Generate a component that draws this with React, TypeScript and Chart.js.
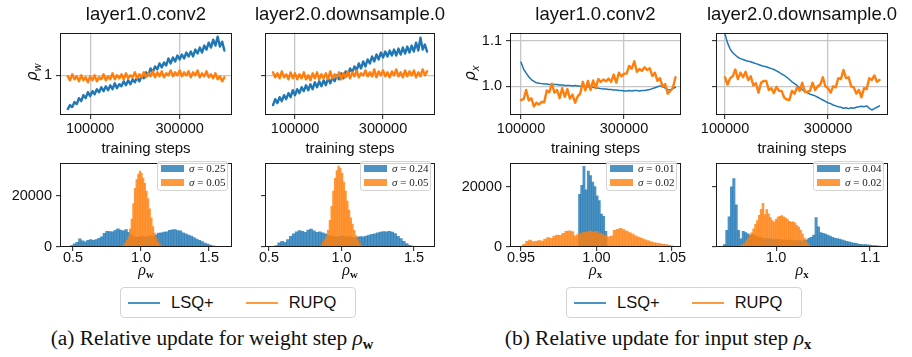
import React, { useEffect, useRef } from "react";
import { Chart, registerables } from "chart.js";
Chart.register(...registerables);

// ---------- colours / fonts ----------
const BLUE = "#1f77b4";
const ORANGE = "#ff7f0e";
const BLUE_A = "rgba(31,119,180,0.8)";
const ORANGE_A = "rgba(255,127,14,0.8)";
const GRID = "#c6c6c6";
const SANS = '"Liberation Sans", Arial, Helvetica, sans-serif';
const SERIF = '"Liberation Serif", "Times New Roman", serif';

// ---------- tick values / labels ----------
const STEP_TICKS = [100000, 300000];
const STEP_LABELS = ["100000", "300000"];
const RHO_W_TICKS = [1];
const RHO_W_LABELS = ["1"];
const RHO_X_TICKS = [1.0, 1.1];
const RHO_X_LABELS = ["1.0", "1.1"];
const COUNT_TICKS = [0, 20000];
const COUNT_LABELS = ["0", "20000"];
const HW_TICKS = [0.5, 1.0, 1.5];
const HW_LABELS = ["0.5", "1.0", "1.5"];
const HX1_TICKS = [0.95, 1.0, 1.05];
const HX1_LABELS = ["0.95", "1.00", "1.05"];
const HX2_TICKS = [1.0, 1.1];
const HX2_LABELS = ["1.0", "1.1"];

const TITLES = ["layer1.0.conv2", "layer2.0.downsample.0", "layer1.0.conv2", "layer2.0.downsample.0"];
const SIGMA_BLUE = ["0.25", "0.24", "0.01", "0.04"];
const SIGMA_ORANGE = ["0.05", "0.05", "0.02", "0.02"];

// ---------- time series (training steps) ----------
// weight step, layer1.0.conv2 : steps 50000 .. 400000
const W1_LSQ = [0.66,0.70,0.68,0.73,0.71,0.77,0.74,0.80,0.77,0.83,0.79,0.84,0.81,0.86,0.83,0.88,0.84,0.89,0.85,0.90,0.86,0.92,0.87,0.91,0.89,0.94,0.90,0.95,0.91,0.96,0.93,0.98,0.94,0.99,0.97,1.03,1.00,1.07,1.03,1.09,1.06,1.12,1.08,1.13,1.10,1.17,1.12,1.18,1.14,1.20,1.16,1.21,1.17,1.23,1.19,1.24,1.19,1.26,1.22,1.28,1.23,1.30,1.26,1.33,1.28,1.36,1.30,1.39,1.29,1.34,1.25];
const W1_RUPQ = [0.99,0.95,1.01,0.96,0.99,0.94,1.00,0.95,0.98,0.93,0.99,0.95,1.00,0.94,0.98,0.96,1.01,0.95,0.99,0.96,1.02,0.96,1.00,0.97,1.01,0.96,1.02,0.97,1.00,0.98,1.03,0.97,1.01,0.98,1.03,0.98,1.02,0.99,1.04,0.98,1.03,0.99,1.04,0.98,1.02,1.00,1.05,0.99,1.03,1.00,1.05,0.99,1.03,1.00,1.04,0.98,1.03,1.00,1.05,0.98,1.02,0.99,1.04,0.98,1.01,0.97,1.02,0.96,0.99,0.94,0.98];
// weight step, layer2.0.downsample.0 : steps 50000 .. 400000
const W2_LSQ = [0.70,0.76,0.72,0.78,0.74,0.80,0.76,0.82,0.78,0.85,0.80,0.86,0.82,0.88,0.84,0.90,0.85,0.91,0.86,0.93,0.88,0.94,0.89,0.95,0.90,0.97,0.92,0.98,0.94,1.00,0.96,1.02,0.97,1.04,1.00,1.07,1.03,1.09,1.05,1.12,1.07,1.14,1.09,1.16,1.12,1.19,1.14,1.21,1.16,1.23,1.18,1.24,1.19,1.25,1.20,1.26,1.20,1.27,1.21,1.28,1.22,1.29,1.23,1.30,1.24,1.33,1.25,1.38,1.26,1.31,1.24];
const W2_RUPQ = [1.03,0.98,1.02,0.97,1.04,0.98,1.01,0.96,1.03,0.97,1.02,0.96,1.01,0.97,1.03,0.96,1.00,0.95,1.02,0.97,1.03,0.96,1.01,0.97,1.02,0.96,1.04,0.97,1.01,0.98,1.03,0.96,1.02,0.98,1.04,0.97,1.03,0.99,1.05,0.98,1.02,1.00,1.05,0.99,1.03,0.99,1.06,0.98,1.04,1.00,1.05,0.99,1.03,0.98,1.04,1.00,1.06,0.99,1.03,0.98,1.05,0.99,1.04,1.00,1.05,0.98,1.03,0.99,1.06,1.00,1.04];
// input step, layer1.0.conv2 : steps 100000 .. 400000
const X1_LSQ = [1.053,1.038,1.029,1.021,1.015,1.011,1.008,1.007,1.006,1.005,1.005,1.004,1.004,1.004,1.004,1.003,1.003,1.002,1.002,1.002,1.001,1.002,1.001,1.000,1.000,0.999,0.999,0.998,0.998,0.997,0.996,0.995,0.994,0.994,0.993,0.993,0.992,0.992,0.991,0.991,0.990,0.990,0.991,0.990,0.991,0.991,0.990,0.991,0.991,0.992,0.993,0.995,0.997,0.999,1.001,0.999,0.996,0.993,0.992,0.995,0.998];
const X1_RUPQ = [0.970,0.972,0.992,0.969,0.974,0.956,0.964,0.960,0.966,0.965,0.991,0.987,1.006,0.986,0.992,0.974,0.996,0.977,0.994,0.973,0.982,0.964,0.978,0.984,1.010,0.991,1.012,0.992,1.013,0.996,1.016,1.010,1.015,1.011,1.017,1.010,1.026,1.008,1.030,1.022,1.028,1.028,1.045,1.039,1.055,1.032,1.038,1.034,1.042,1.036,1.040,1.023,1.030,1.012,1.018,0.999,1.005,0.984,0.990,0.997,1.020];
// input step, layer2.0.downsample.0 : steps 100000 .. 400000
const X2_LSQ = [1.115,1.095,1.082,1.074,1.069,1.064,1.061,1.059,1.057,1.055,1.054,1.052,1.050,1.048,1.046,1.044,1.043,1.041,1.039,1.037,1.034,1.031,1.027,1.024,1.020,1.015,1.010,1.006,1.002,0.997,0.993,0.989,0.986,0.983,0.981,0.979,0.976,0.973,0.970,0.967,0.964,0.962,0.959,0.957,0.955,0.954,0.952,0.953,0.951,0.953,0.952,0.954,0.955,0.956,0.955,0.957,0.952,0.948,0.951,0.954,0.957];
const X2_RUPQ = [1.020,1.004,1.018,1.022,1.037,1.016,1.030,1.020,1.032,1.014,1.022,1.002,1.007,0.986,1.008,1.012,1.012,0.992,0.996,0.985,0.999,0.990,0.990,0.975,0.971,0.970,0.990,0.984,0.998,0.990,1.008,0.988,0.988,0.990,1.008,0.992,1.000,1.004,1.020,1.000,0.996,0.986,1.000,0.998,1.018,1.016,1.036,1.018,1.020,1.000,0.998,0.984,0.992,0.976,0.996,0.994,1.018,1.014,1.024,1.010,1.014];

// ---------- histograms (counts per bin, first bin centre + bin width) ----------
const HW1_LSQ = [100,300,600,1200,1800,3200,2400,2000,2600,2900,2600,2900,3400,4000,5400,6200,6100,6000,6500,7100,6600,6300,6800,5800,4800,4000,3800,4000,4200,3900,4000,4400,4200,4800,5500,5600,5900,6000,6500,6700,6800,6400,6300,5600,5200,4700,4300,3700,3100,2600,2100,1500,1100,800,500,300,150,100,60,30];
const HW1_RUPQ = [300,800,1500,2600,4000,7000,11000,17000,23000,26500,28500,29800,29000,27000,25000,22000,19000,15000,11500,8000,5500,3500,2000,1000,400,150];
const HW2_LSQ = [150,600,1600,2200,1800,2900,4200,5200,6000,6400,6200,5800,6600,7000,6300,5800,6000,5600,5200,4600,4300,4100,3900,4200,4400,4000,4300,3800,3600,3900,4100,4000,4300,4700,5000,5200,5600,5900,6100,6000,6200,5900,5300,4200,3300,2200,1300,700,350,150,80,40,20];
const HW2_RUPQ = [500,1800,3000,4200,6500,10500,16000,22000,27000,30000,31800,31000,29000,25500,22000,18000,14500,11500,9000,6500,4500,2800,1600,700,300];
const HX1_LSQ = [17500,20500,26800,19000,25200,23700,21600,20100,17000,15400,10900,10200,5200];
const HX1_RUPQ = [300,900,1900,2300,1800,1900,2100,2000,2600,3100,2900,3600,4000,3900,4500,5200,5400,5100,3700,4300,4600,4900,5000,5300,4900,5200,4600,4200,3800,3400,3600,5500,5900,6200,5800,5300,4800,4300,3700,3300,2900,2500,2100,1800,1500,1300,1100,900,800,600,400,200];
const HX2_LSQ = [800,5500,10000,20000,22700,14000,5500,2700,5200,4800,4400,4000,4200,3800,3500,3300,3000,2800,2900,2600,2700,2500,2600,2400,2500,2300,2400,2200,2300,2100,2200,2000,2100,2000,2200,2400,3000,3200,4000,9800,6700,4800,4500,4300,4000,3600,3200,3000,2800,2600,2400,2100,1900,1700,1500,1300,1200,1000,900,800,800,700,600,500,450,400,300];
const HX2_RUPQ = [400,800,1200,2000,2700,3800,4700,6000,7500,8800,10500,12500,14500,10800,12400,11000,9800,8800,8300,9200,9900,10200,10400,10000,9700,9200,8500,8300,8400,8000,7200,6600,5600,4400,3000,2000,1100,500];

type LineS = { from: number; to: number; values: number[] };
type HistS = { start: number; step: number; values: number[] };
type PanelDef = {
  kind: "line" | "hist";
  box: [number, number, number, number];
  xr: [number, number];
  yr: [number, number];
  xt: number[]; xl: string[];
  yt: number[]; yl: string[];
  blue: LineS | HistS;
  orange: LineS | HistS;
  xPad: number;
  bw: [number, number];
};

const blank = (a: number[]) => a.map(() => "");

const PANELS: PanelDef[] = [
  { kind: "line", box: [60, 26, 232, 115], xr: [32600, 417000], yr: [0.6, 1.43], xt: STEP_TICKS, xl: STEP_LABELS, yt: RHO_W_TICKS, yl: RHO_W_LABELS,
    blue: { from: 50000, to: 400000, values: W1_LSQ }, orange: { from: 50000, to: 400000, values: W1_RUPQ }, xPad: 1, bw: [2.4, 2.4] },
  { kind: "line", box: [265, 26, 435, 115], xr: [31800, 418000], yr: [0.6, 1.43], xt: STEP_TICKS, xl: STEP_LABELS, yt: RHO_W_TICKS, yl: blank(RHO_W_TICKS),
    blue: { from: 50000, to: 400000, values: W2_LSQ }, orange: { from: 50000, to: 400000, values: W2_RUPQ }, xPad: 1, bw: [2.4, 2.4] },
  { kind: "line", box: [510, 26, 681, 115], xr: [78600, 410700], yr: [0.937, 1.118], xt: STEP_TICKS, xl: STEP_LABELS, yt: RHO_X_TICKS, yl: RHO_X_LABELS,
    blue: { from: 100000, to: 400000, values: X1_LSQ }, orange: { from: 100000, to: 400000, values: X1_RUPQ }, xPad: 1, bw: [1.5, 2.4] },
  { kind: "line", box: [716, 26, 888, 115], xr: [82500, 416500], yr: [0.937, 1.118], xt: STEP_TICKS, xl: STEP_LABELS, yt: RHO_X_TICKS, yl: blank(RHO_X_TICKS),
    blue: { from: 100000, to: 400000, values: X2_LSQ }, orange: { from: 100000, to: 400000, values: X2_RUPQ }, xPad: 1, bw: [1.5, 2.4] },
  { kind: "hist", box: [60, 156, 232, 247], xr: [0.404, 1.669], yr: [0, 33100], xt: HW_TICKS, xl: HW_LABELS, yt: COUNT_TICKS, yl: COUNT_LABELS,
    blue: { start: 0.45, step: 0.02, values: HW1_LSQ }, orange: { start: 0.86, step: 0.012, values: HW1_RUPQ }, xPad: -2, bw: [0, 0] },
  { kind: "hist", box: [265, 156, 435, 247], xr: [0.472, 1.645], yr: [0, 33100], xt: HW_TICKS, xl: HW_LABELS, yt: COUNT_TICKS, yl: blank(COUNT_TICKS),
    blue: { start: 0.53, step: 0.02, values: HW2_LSQ }, orange: { start: 0.86, step: 0.012, values: HW2_RUPQ }, xPad: -2, bw: [0, 0] },
  { kind: "hist", box: [510, 156, 681, 247], xr: [0.9427, 1.056], yr: [0, 28000], xt: HX1_TICKS, xl: HX1_LABELS, yt: COUNT_TICKS, yl: COUNT_LABELS,
    blue: { start: 0.9888, step: 0.00145, values: HX1_LSQ }, orange: { start: 0.95, step: 0.002, values: HX1_RUPQ }, xPad: -2, bw: [0, 0] },
  { kind: "hist", box: [716, 156, 888, 247], xr: [0.936, 1.119], yr: [0, 28000], xt: HX2_TICKS, xl: HX2_LABELS, yt: COUNT_TICKS, yl: blank(COUNT_TICKS),
    blue: { start: 0.945, step: 0.0025, values: HX2_LSQ }, orange: { start: 0.962, step: 0.002, values: HX2_RUPQ }, xPad: -2, bw: [0, 0] },
];

function lineXY(s: LineS) {
  const n = s.values.length;
  return s.values.map((v, i) => ({ x: s.from + ((s.to - s.from) * i) / (n - 1), y: v }));
}
function histXY(s: HistS) {
  return s.values.map((v, i) => ({ x: s.start + s.step * i, y: v }));
}

const framePlugin = {
  id: "frame",
  afterDraw(chart: any) {
    const { ctx, chartArea: a } = chart;
    ctx.save();
    ctx.strokeStyle = "#1a1a1a";
    ctx.lineWidth = 1;
    const l = Math.round(a.left) + 0.5, t = Math.round(a.top) + 0.5;
    const r = Math.round(a.right) - 0.5, b = Math.round(a.bottom) - 0.5;
    ctx.strokeRect(l, t, r - l, b - t);
    ctx.restore();
  },
};

const ML = 58, MT = 6, MR = 14, MB = 28;

function PanelChart({ def }: { def: PanelDef }) {
  const ref = useRef<HTMLCanvasElement | null>(null);
  const [l, t, r, b] = def.box;
  const cw = r - l + ML + MR;
  const ch = b - t + MT + MB;
  useEffect(() => {
    const canvas = ref.current;
    if (!canvas) return;
    const tickFont = { family: SANS, size: 14.5 };
    const isLine = def.kind === "line";
    const xScale: any = {
      type: "linear", min: def.xr[0], max: def.xr[1], offset: false, bounds: "data",
      afterBuildTicks: (s: any) => { s.ticks = def.xt.map((v) => ({ value: v })); },
      afterFit: (s: any) => { s.height = MB; },
      ticks: { autoSkip: false, maxRotation: 0, minRotation: 0, padding: def.xPad, color: "#111", font: tickFont,
        callback: (_v: any, i: number) => def.xl[i] },
      grid: { drawOnChartArea: isLine, color: GRID, lineWidth: 1.3, tickLength: 4, tickColor: "#1a1a1a", tickWidth: 1, offset: false },
      border: { display: false },
    };
    const yScale: any = {
      type: "linear", min: def.yr[0], max: def.yr[1], bounds: "data",
      afterBuildTicks: (s: any) => { s.ticks = def.yt.map((v) => ({ value: v })); },
      afterFit: (s: any) => { s.width = ML; },
      ticks: { autoSkip: false, padding: 4, color: "#111", font: tickFont, callback: (_v: any, i: number) => def.yl[i] },
      grid: { drawOnChartArea: isLine, color: GRID, lineWidth: 1.3, tickLength: 4, tickColor: "#1a1a1a", tickWidth: 1 },
      border: { display: false },
    };
    let cfg: any;
    if (isLine) {
      const common = { pointRadius: 0, tension: 0, borderJoinStyle: "round", borderCapStyle: "round" };
      cfg = {
        type: "line",
        data: {
          datasets: [
            { label: "RUPQ", data: lineXY(def.orange as LineS), borderColor: ORANGE, borderWidth: def.bw[1], order: 1, ...common },
            { label: "LSQ+", data: lineXY(def.blue as LineS), borderColor: BLUE, borderWidth: def.bw[0], order: 2, ...common },
          ],
        },
        options: { scales: { x: xScale, y: yScale } },
      };
    } else {
      const bar = { grouped: false, barPercentage: 1, categoryPercentage: 1, borderWidth: 0 };
      cfg = {
        type: "bar",
        data: {
          datasets: [
            { label: "RUPQ", data: histXY(def.orange as HistS), backgroundColor: ORANGE_A, xAxisID: "x2", order: 1, ...bar },
            { label: "LSQ+", data: histXY(def.blue as HistS), backgroundColor: BLUE_A, xAxisID: "x", order: 2, ...bar },
          ],
        },
        options: {
          scales: {
            x: xScale,
            x2: { type: "linear", min: def.xr[0], max: def.xr[1], offset: false, display: false, bounds: "data" },
            y: yScale,
          },
        },
      };
    }
    cfg.options.responsive = false;
    cfg.options.animation = false;
    cfg.options.devicePixelRatio = 1;
    cfg.options.layout = { padding: { left: 0, top: MT, right: MR, bottom: 0 } };
    cfg.options.plugins = { legend: { display: false }, tooltip: { enabled: false }, title: { display: false } };
    cfg.options.events = [];
    cfg.plugins = [framePlugin];
    const chart = new Chart(canvas, cfg);
    return () => chart.destroy();
  }, [def]);
  return (
    <canvas ref={ref} width={cw} height={ch}
      style={{ position: "absolute", left: l - ML, top: t - MT, width: cw, height: ch }} />
  );
}

function Txt({ x, y, children, style }: { x: number; y: number; children: any; style?: any }) {
  return (
    <div style={{ position: "absolute", left: x, top: y, transform: "translate(-50%,-50%)", whiteSpace: "nowrap", lineHeight: 1, color: "#111", ...style }}>
      {children}
    </div>
  );
}

const Sub = ({ children, bold }: { children: any; bold?: boolean }) => (
  <span style={{ fontSize: "0.68em", verticalAlign: "-0.32em", fontWeight: bold ? "bold" : "normal", fontStyle: bold ? "normal" : "italic" }}>{children}</span>
);

function HistLegend({ def, idx }: { def: PanelDef; idx: number }) {
  const [, t, r] = def.box;
  const row = (color: string, txt: string, top: number) => (
    <div style={{ position: "absolute", left: 3, top, height: 8, display: "flex", alignItems: "center" }}>
      <div style={{ width: 23, height: 7, background: color }} />
      <div style={{ marginLeft: 5, fontFamily: SERIF, fontSize: 11, color: "#222", lineHeight: 1 }}>
        <i>σ</i> = {txt}
      </div>
    </div>
  );
  return (
    <div style={{ position: "absolute", left: r - 4 - 71, top: t + 5, width: 71, height: 30, boxSizing: "border-box",
      border: "1px solid #d4d4d4", borderRadius: 3, background: "rgba(255,255,255,0.8)" }}>
      {row(BLUE_A, SIGMA_BLUE[idx], 2.5)}
      {row(ORANGE_A, SIGMA_ORANGE[idx], 16.5)}
    </div>
  );
}

function MainLegend({ left }: { left: number }) {
  const item = (color: string, label: string, ml: number) => (
    <div style={{ display: "flex", alignItems: "center", marginLeft: ml }}>
      <div style={{ width: 32, height: 2, background: color }} />
      <div style={{ marginLeft: 11, fontFamily: SANS, fontSize: 16.5, color: "#111" }}>{label}</div>
    </div>
  );
  return (
    <div style={{ position: "absolute", left, top: 287, width: 236, height: 31, boxSizing: "border-box",
      border: "1px solid #d4d4d4", borderRadius: 4, background: "#fff", display: "flex", alignItems: "center" }}>
      {item(BLUE_A, "LSQ+", 7)}
      {item(ORANGE_A, "RUPQ", 32)}
    </div>
  );
}

export default function App() {
  const centers = PANELS.map((p) => (p.box[0] + p.box[2]) / 2);
  const capStyle = { fontFamily: SERIF, fontSize: 20, transform: "translate(-50%,-50%) scaleX(1.07)" };
  return (
    <div style={{ position: "absolute", left: 0, top: 0, width: 912, height: 357, overflow: "hidden", background: "#fff" }}>
      {PANELS.map((p, i) => <PanelChart key={i} def={p} />)}
      {TITLES.map((tt, i) => (
        <Txt key={"t" + i} x={centers[i]} y={14} style={{ fontFamily: SANS, fontSize: 18.5 }}>{tt}</Txt>
      ))}
      {[0, 1, 2, 3].map((i) => (
        <Txt key={"s" + i} x={centers[i]} y={147} style={{ fontFamily: SANS, fontSize: 15 }}>training steps</Txt>
      ))}
      <Txt x={34} y={72} style={{ fontFamily: '"DejaVu Sans", sans-serif', fontSize: 15, transform: "translate(-50%,-50%) rotate(-90deg)" }}>
        <i>ρ</i><Sub>w</Sub>
      </Txt>
      <Txt x={472} y={73} style={{ fontFamily: '"DejaVu Sans", sans-serif', fontSize: 15, transform: "translate(-50%,-50%) rotate(-90deg)" }}>
        <i>ρ</i><Sub>x</Sub>
      </Txt>
      {[4, 5, 6, 7].map((i) => (
        <Txt key={"r" + i} x={centers[i]} y={271} style={{ fontFamily: SERIF, fontSize: 16 }}>
          <i>ρ</i><Sub bold>{i < 6 ? "w" : "x"}</Sub>
        </Txt>
      ))}
      {[4, 5, 6, 7].map((i) => <HistLegend key={"l" + i} def={PANELS[i]} idx={i - 4} />)}
      <MainLegend left={120} />
      <MainLegend left={566} />
      <Txt x={212} y={340} style={capStyle}>
        (a) Relative update for weight step <i>ρ</i><Sub bold>w</Sub>
      </Txt>
      <Txt x={658} y={340} style={capStyle}>
        (b) Relative update for input step <i>ρ</i><Sub bold>x</Sub>
      </Txt>
    </div>
  );
}
